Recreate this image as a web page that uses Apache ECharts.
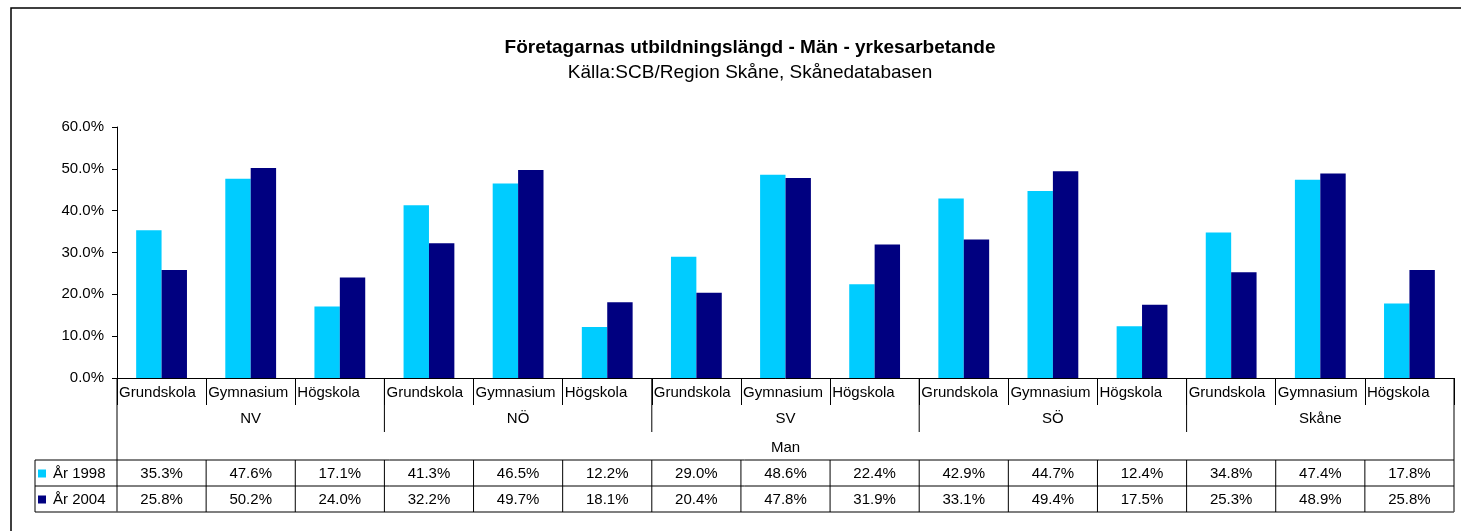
<!DOCTYPE html>
<html>
<head>
<meta charset="utf-8">
<script src="https://cdn.jsdelivr.net/npm/echarts@6/dist/echarts.min.js"></script>
<style>
html, body { margin: 0; padding: 0; background: #fff; }
#chart { width: 1461px; height: 531px; }
</style>
</head>
<body>
<div id="chart"></div>
<script>
var regions = ['NV', 'NÖ', 'SV', 'SÖ', 'Skåne'];
var levels = ['Grundskola', 'Gymnasium', 'Högskola'];
var groupLabel = 'Man';
var seriesNames = ['År 1998', 'År 2004'];
var yr1998 = [35.3, 47.6, 17.1, 41.3, 46.5, 12.2, 29.0, 48.6, 22.4, 42.9, 44.7, 12.4, 34.8, 47.4, 17.8];
var yr2004 = [25.8, 50.2, 24.0, 32.2, 49.7, 18.1, 20.4, 47.8, 31.9, 33.1, 49.4, 17.5, 25.3, 48.9, 25.8];
var colors = ['#00ccff', '#000080'];

var font = 'Arial, "Liberation Sans", sans-serif';

// one category per region + level
var categories = [];
regions.forEach(function(r) {
	levels.forEach(function(l) {
		categories.push(r + '|' + l);
	});
});

var chart = echarts.init(document.getElementById('chart'));

var option = {
	animation: false,
	textStyle: { fontFamily: font, color: '#000' },
	title: [{
		text: 'Företagarnas utbildningslängd - Män - yrkesarbetande',
		left: 745,
		top: 33,
		textAlign: 'center',
		textStyle: { fontFamily: font, fontSize: 19, fontWeight: 'bold', color: '#000' }
	}, {
		text: 'Källa:SCB/Region Skåne, Skånedatabasen',
		left: 745,
		top: 58,
		textAlign: 'center',
		textStyle: { fontFamily: font, fontSize: 19, fontWeight: 'normal', color: '#000' }
	}],
	legend: {
		orient: 'vertical',
		left: 38,
		top: 465,
		padding: 0,
		itemGap: 9,
		itemWidth: 8,
		itemHeight: 8,
		icon: 'rect',
		data: seriesNames,
		textStyle: { fontFamily: font, fontSize: 15, color: '#000', lineHeight: 17, padding: [0, 0, 0, 2] }
	},
	grid: { left: 117, right: 7, top: 127, bottom: 153, containLabel: false },
	xAxis: {
		type: 'category',
		data: categories,
		axisLine: { lineStyle: { color: '#000', width: 1 } },
		axisTick: { show: true, interval: 0, length: 27, inside: false, lineStyle: { color: '#000' } },
		axisLabel: {
			interval: 0,
			margin: 7,
			fontFamily: font,
			fontSize: 15,
			color: '#000',
			// labels sit at the left of each cell, like in the source
			formatter: function(v) { return '{a|' + v.split('|')[1] + '}'; },
			rich: {
				a: { width: 85, align: 'left', fontFamily: font, fontSize: 15, color: '#000' }
			}
		}
	},
	yAxis: {
		type: 'value',
		min: 0,
		max: 60,
		interval: 10,
		axisLine: { show: true, lineStyle: { color: '#000', width: 1 } },
		axisTick: { show: true, length: 5, lineStyle: { color: '#000' } },
		splitLine: { show: false },
		axisLabel: {
			margin: 13,
			fontFamily: font,
			fontSize: 15,
			color: '#000',
			formatter: function(v) { return v.toFixed(1) + '%'; }
		}
	},
	series: [{
		name: seriesNames[0],
		type: 'bar',
		data: yr1998,
		barGap: '0%',
		barCategoryGap: '43%',
		itemStyle: { color: colors[0] }
	}, {
		name: seriesNames[1],
		type: 'bar',
		data: yr2004,
		barGap: '0%',
		barCategoryGap: '43%',
		itemStyle: { color: colors[1] }
	}]
};

chart.setOption(option);

// multi-level labels and data table, placed from the category axis
var x0 = chart.convertToPixel({ xAxisIndex: 0 }, 0);
var band = chart.convertToPixel({ xAxisIndex: 0 }, 1) - x0;
var left = x0 - band / 2;
var right = left + band * categories.length;
var axisY = chart.convertToPixel({ yAxisIndex: 0 }, 0);

var regionLineBottom = 432;
var regionLabelY = 419;
var groupLabelY = 448;
var rowTop = 460;
var rowH = 26;
var tableLeft = 35;
var tableBottom = rowTop + rowH * 2;

var g = [];
function line(x1, y1, x2, y2, color, w) {
	g.push({
		type: 'line',
		silent: true,
		shape: { x1: x1, y1: y1, x2: x2, y2: y2 },
		style: { stroke: color || '#000', lineWidth: w || 1 }
	});
}
function text(x, y, s) {
	g.push({
		type: 'text',
		silent: true,
		x: x,
		y: y,
		style: { text: s, fill: '#000', font: '15px ' + font, align: 'center', verticalAlign: 'middle' }
	});
}

// outer frame
g.push({
	type: 'rect',
	silent: true,
	shape: { x: 11, y: 8, width: 1470, height: 540 },
	style: { fill: null, stroke: '#000', lineWidth: 1.5 }
});

line(left, axisY, left, tableBottom);
line(right, axisY, right, tableBottom);
for (var i = 1; i < regions.length; i++) {
	var bx = left + band * levels.length * i;
	line(bx, axisY, bx, regionLineBottom);
}
regions.forEach(function(r, i) {
	text(left + band * levels.length * (i + 0.5), regionLabelY, r);
});
text((left + right) / 2, groupLabelY, groupLabel);

// table grid
line(tableLeft, rowTop, right, rowTop);
line(tableLeft, rowTop + rowH, right, rowTop + rowH);
line(tableLeft, tableBottom, right, tableBottom, '#555', 1.5);
line(tableLeft, rowTop, tableLeft, tableBottom);
for (var c = 1; c < categories.length; c++) {
	line(left + band * c, rowTop, left + band * c, tableBottom);
}
[yr1998, yr2004].forEach(function(arr, r) {
	arr.forEach(function(v, c) {
		text(left + band * (c + 0.5), rowTop + rowH * (r + 0.5) + 1, v.toFixed(1) + '%');
	});
});

chart.setOption({ graphic: g });
</script>
</body>
</html>
